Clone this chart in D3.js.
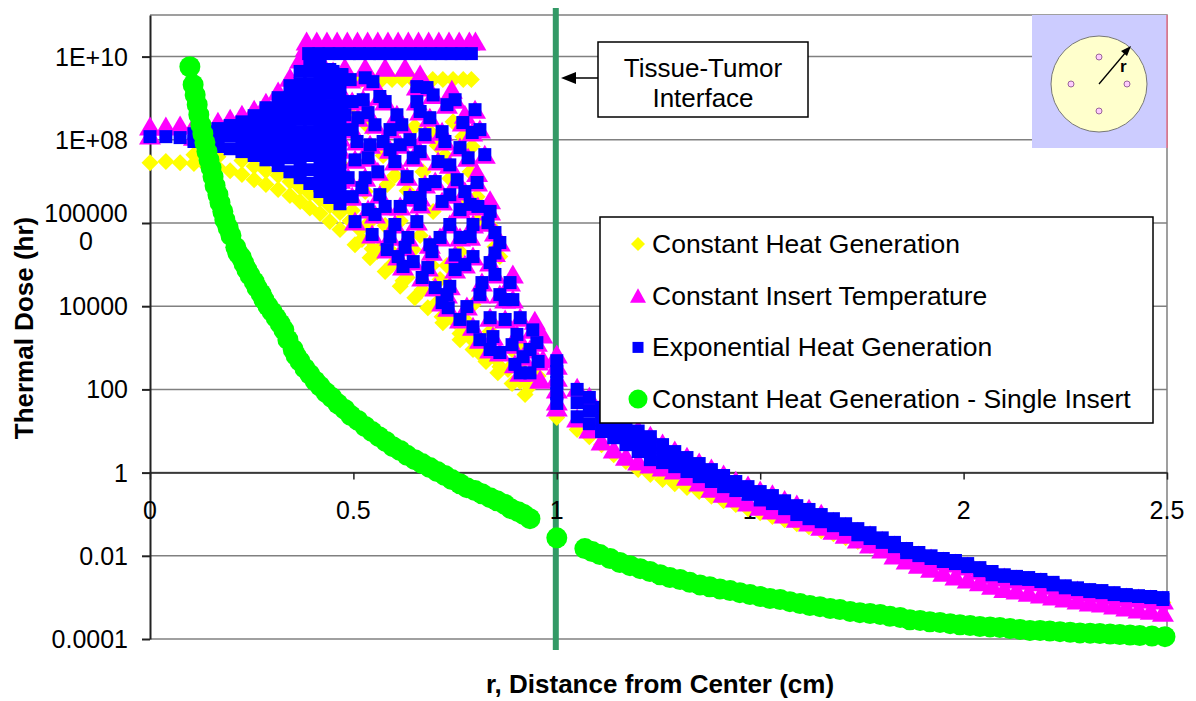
<!DOCTYPE html>
<html>
<head>
<meta charset="utf-8">
<script src="https://cdn.jsdelivr.net/npm/d3@7"></script>
<style>
body { margin: 0; background: #fff; }
text { font-family: "Liberation Sans", Arial, sans-serif; }
</style>
</head>
<body>
<div id="chart-container"></div>
<script>
var xTicks = [0, 0.5, 1, 1.5, 2, 2.5]
var xTickLabels = ["0", "0.5", "1", "1.5", "2", "2.5"]
var yTicks = [1e-4, 1e-2, 1, 100, 1e4, 1e6, 1e8, 1e10]
var yTickLabels = [["0.0001"], ["0.01"], ["1"], ["100"], ["10000"], ["100000", "0"], ["1E+08"], ["1E+10"]]
var seriesNames = ["Constant Heat Generation", "Constant Insert Temperature", "Exponential Heat Generation", "Constant Heat Generation - Single Insert"]

// r positions of the band beyond the interface (shared by the three insert models)
var tailR = [1.05,1.08,1.11,1.14,1.17,1.20,1.23,1.26,1.29,1.32,1.35,1.38,1.41,1.44,1.47,1.50,1.53,1.56,1.59,1.62,1.65,1.68,1.71,1.74,1.77,1.80,1.83,1.86,1.89,1.92,1.95,1.98,2.01,2.04,2.07,2.10,2.13,2.16,2.19,2.22,2.25,2.28,2.31,2.34,2.37,2.40,2.43,2.46,2.49]

// Constant Heat Generation (yellow diamonds)
var constHeatPts = [
  [0,2.8e7],[0.039,3.0e7],[0.074,2.8e7],[0.108,2.7e7],[0.138,2.4e7],[0.167,2.15e7],[0.197,1.8e7],[0.226,1.46e7],[0.256,1.1e7],[0.285,8.4e6],
  [0.315,6.4e6],[0.344,4.6e6],[0.369,3.3e6],[0.393,2.3e6],[0.418,1.7e6],[0.442,1.08e6],[0.467,7.0e5],[0.504,3.0e5],[0.541,1.47e5],[0.578,6.8e4],
  [0.615,3.0e4],[0.651,1.6e4],[0.683,9.2e3],[0.720,4.0e3],[0.762,1.57e3],[0.794,9.1e2],[0.826,4.7e2],[0.855,2.5e2],[0.890,1.38e2],[0.922,75],
  [0.521,4.0e5],[0.558,2.05e5],[0.595,1.0e5],[0.632,4.9e4],[0.669,2.5e4],[0.706,1.22e4],[0.742,5.3e3],[0.779,2.2e3],[0.816,1.19e3],[0.848,5.8e2],[0.880,3.0e2],[0.910,1.55e2],
  [0.108,4.4e7],[0.167,3.9e7],[0.226,3.2e7],[0.256,2.3e7],[0.285,1.8e7],[0.315,1.38e7],[0.344,9.9e6],[0.369,7.1e6],[0.393,5.1e6],[0.418,3.7e6],
  [0.442,2.6e6],[0.467,1.8e6],[0.492,1.14e6],[0.516,7.0e5],[0.541,4.0e5],[0.565,2.4e5],
  [0.42,2.8e9],[0.445,2.8e9],[0.47,2.8e9],[0.495,2.8e9],[0.52,2.8e9],[0.545,2.8e9],[0.57,2.8e9],[0.595,2.8e9],[0.62,2.8e9],[0.645,2.8e9],
  [0.67,2.8e9],[0.695,2.8e9],[0.72,2.8e9],[0.745,2.8e9],[0.77,2.8e9],[0.79,2.8e9],
  [0.497,3.8e8],[0.536,2.1e8],[0.607,1.86e8],[0.651,2.1e8],[0.745,2.7e8],[0.573,4.2e7],[0.671,1.7e7],[0.602,1.38e7],[0.467,2.7e7],[0.529,5.7e6],
  [0.632,6.0e6],[0.583,8.4e6],[0.696,1.9e6],[0.497,2.0e6],[0.536,9.7e5],[0.615,1.14e6],[0.664,5.0e5],[0.578,8.7e5],[0.647,2.3e5],[0.546,2.4e5],
  [0.590,2.2e5],[0.713,4.4e4],[0.730,9.5e4],[0.762,2.05e5],[0.622,4.1e4],[0.693,9.5e4],[0.794,1.09e4],[0.774,4.8e3],[0.806,1.14e6],[0.836,8.7e5],
  [0.860,1.56e5],[0.890,9.1e2],[0.910,1.19e3],[0.836,2.45e3],[0.794,1.49e3],[0.860,3.5e2],[0.954,2.1e2],[0.934,1.17e2],[0.917,2.8e2],[0.811,7.3e2],
  [0.750,4.3e3],[0.718,5.6e3],[0.762,2.2e3],[0.848,2.7e5],[0.804,4.3e6],[0.769,2.6e6],[0.737,1.17e7],[0.787,1.7e7],[0.706,7.3e7],[0.725,4.2e7],
  [0.688,1.57e8],[0.792,6.9e7],[0.769,1.19e8],
  [1.0,33],[1.0,21]
]
var constHeatTail = [10.8,7.3,4.7,2.7,1.84,1.18,0.9,0.68,0.54,0.44,0.35,0.27,0.21,0.17,0.136,0.109,0.088,0.074,0.059,0.050,
  0.040,0.034,0.027,0.022,0.0176,0.016,0.0141,0.0101,0.0086,0.0073,0.0061,0.0055,0.0047,0.0037,0.0030,0.0027,0.0024,0.0023,0.0020,0.0017,
  0.00146,0.0013,0.00117,0.0011,0.00099,0.00094,0.00089,0.00084,0.00075]

// lattice of grid points between the inserts: read once, both insert models sit on the same spots
var latticeR = [0.450,0.472,0.492,0.529,0.548,0.472,0.497,0.524,0.565,0.578,0.536,0.607,0.619,0.497,0.509,0.573,0.438,0.467,0.536,0.602,
  0.435,0.460,0.487,0.529,0.560,0.632,0.497,0.536,0.578,0.615,0.504,0.546,0.590,0.634,0.656,0.639,0.647,0.656,0.656,0.681,
  0.696,0.730,0.750,0.688,0.718,0.676,0.769,0.792,0.664,0.725,0.762,0.782,0.708,0.737,0.755,0.804,0.701,0.664,0.718,0.774,
  0.762,0.806,0.836,0.737,0.794,0.831,0.848,0.713,0.762,0.583,0.610,0.647,0.693,0.622,0.669,0.683,0.701,0.718,0.730,0.787,
  0.750,0.794,0.836,0.848,0.737,0.779,0.816,0.885,0.860,0.836,0.892,0.733,0.762,0.794,0.843,0.811,0.860,0.902,0.941,0.951,
  0.917,0.910,0.934,0.954,0.860,
  0.511,0.553,0.590,0.639,0.664,0.590,0.676,0.737,0.787,0.615,0.521,0.565,0.602,0.553,0.664,0.627,0.688,0.774,0.811,0.848,
  0.873,0.750,0.873,0.910,0.890,0.934,0.836,0.897,0.799,0.823,0.811,0.541,0.479,0.504]
var expHeatLattice = [4.4e9,3.7e9,2.8e9,3.1e9,2.5e9,7.0e8,8.3e8,9.2e8,1.1e9,8.3e8,4.5e8,4.0e8,2.3e8,1.76e8,9.1e7,9.1e7,1.01e8,5.8e7,3.7e7,3.0e7,
  3.9e7,2.5e7,1.23e7,1.23e7,1.7e7,1.3e7,4.3e6,2.1e6,2.5e6,2.5e6,1.08e6,5.3e5,4.7e5,4.5e5,1.08e6,4.1e6,3.7e7,8.3e8,1.9e9,1.8e9,
  1.2e9,7.0e8,9.2e8,3.4e8,1.57e8,1.33e8,2.6e8,1.5e8,5.2e7,9.1e7,6.5e7,3.7e7,3.0e7,2.5e7,1.1e7,9.4e6,9.9e6,4.1e6,3.3e6,5.7e6,
  2.1e6,2.5e6,1.9e6,9.2e5,9.2e5,1.02e6,5.9e5,4.5e5,4.5e5,2.3e5,1.56e5,1.18e5,2.05e5,9.0e4,4.9e4,8.5e4,2.8e4,1.22e4,1.9e4,4.7e5,
  7.6e4,1.56e5,1.12e5,1.9e5,3.0e4,9.8e3,3.7e4,3.7e4,1.9e4,5.3e3,1.44e4,9.2e3,4.8e3,3.2e3,1.86e3,1.57e3,7.7e2,2.1e3,2.7e3,1.33e3,
  6.1e2,2.5e2,2.5e2,4.7e2,3.4e5,
  3.4e8,2.3e8,1.76e8,1.01e8,4.8e8,5.8e7,8.4e6,4.8e6,2.8e6,7.6e7,7.1e6,4.8e6,9.2e5,1.6e6,2.8e6,2.6e5,3.0e5,1.0e5,1.9e4,5.8e4,
  1.44e4,1.7e5,4.8e3,5.3e3,1.19e3,9.1e2,9.1e2,4.0e2,5.3e8,4.4e7,1.76e8,7.6e7,4.0e8,3.3e7]
var insertTempLattice = [4.4e9,3.7e9,2.8e9,3.1e9,2.5e9,7.0e8,8.3e8,9.2e8,1.1e9,8.3e8,4.5e8,4.0e8,2.3e8,1.76e8,9.1e7,9.1e7,1.01e8,5.8e7,3.7e7,3.0e7,
  3.9e7,2.5e7,1.23e7,1.23e7,1.7e7,1.3e7,4.3e6,2.1e6,2.5e6,2.5e6,1.08e6,5.3e5,4.7e5,4.5e5,1.08e6,4.1e6,3.7e7,8.3e8,1.9e9,1.8e9,
  1.2e9,7.0e8,9.2e8,3.4e8,1.57e8,1.33e8,2.6e8,1.5e8,5.2e7,9.1e7,6.5e7,3.7e7,3.0e7,2.5e7,1.1e7,9.4e6,9.9e6,4.1e6,3.3e6,5.7e6,
  2.1e6,2.5e6,1.9e6,9.2e5,9.2e5,1.02e6,5.9e5,4.5e5,4.5e5,2.3e5,1.56e5,1.18e5,2.05e5,9.0e4,4.9e4,8.5e4,2.8e4,1.22e4,1.9e4,4.7e5,
  7.6e4,1.56e5,1.12e5,1.9e5,3.0e4,9.8e3,3.7e4,3.7e4,1.9e4,5.3e3,1.44e4,9.2e3,4.8e3,3.2e3,1.86e3,1.57e3,7.7e2,2.1e3,2.7e3,1.33e3,
  6.1e2,2.5e2,2.5e2,4.7e2,3.4e5,
  3.4e8,2.3e8,1.76e8,1.01e8,4.8e8,5.8e7,8.4e6,4.8e6,2.8e6,7.6e7,7.1e6,4.8e6,9.2e5,1.6e6,2.8e6,2.6e5,3.0e5,1.0e5,1.9e4,5.8e4,
  1.44e4,1.7e5,4.8e3,5.3e3,1.19e3,9.1e2,9.1e2,4.0e2,5.3e8,4.4e7,1.76e8,7.6e7,4.0e8,3.3e7]

// Exponential Heat Generation (blue squares)
var expHeatPts = [
  [0,1.19e8],[0.039,1.19e8],[0.074,1.13e8],
  [0.108,1.4e8],[0.108,9.1e7],
  [0.138,1.57e8],[0.138,8.6e7],
  [0.167,1.86e8],[0.167,1.07e8],[0.167,6.9e7],
  [0.197,2.2e8],[0.197,1.26e8],[0.197,6.1e7],
  [0.226,2.7e8],[0.226,1.57e8],[0.226,9.1e7],[0.226,5.2e7],
  [0.256,3.8e8],[0.256,2.2e8],[0.256,1.26e8],[0.256,7.3e7],[0.256,4.2e7],
  [0.285,5.9e8],[0.285,3.4e8],[0.285,2.0e8],[0.285,1.13e8],[0.285,6.5e7],[0.285,3.3e7],
  [0.315,1.03e9],[0.315,5.3e8],[0.315,2.7e8],[0.315,1.4e8],[0.315,7.3e7],[0.315,4.2e7],[0.315,2.4e7],
  [0.344,2.0e9],[0.344,1.03e9],[0.344,5.3e8],[0.344,2.7e8],[0.344,1.4e8],[0.344,7.3e7],[0.344,3.7e7],[0.344,1.7e7],
  [0.369,4.4e9],[0.369,2.2e9],[0.369,1.15e9],[0.369,5.9e8],[0.369,3.1e8],[0.369,1.57e8],[0.369,8.1e7],[0.369,4.2e7],[0.369,2.15e7],[0.369,1.23e7],
  [0.393,8.5e9],[0.393,4.4e9],[0.393,2.2e9],[0.393,1.15e9],[0.393,5.9e8],[0.393,3.1e8],[0.393,1.57e8],[0.393,8.1e7],[0.393,4.2e7],[0.393,1.9e7],[0.393,8.9e6],
  [0.418,6.1e9],[0.418,3.1e9],[0.418,1.6e9],[0.418,8.3e8],[0.418,4.3e8],[0.418,2.2e8],[0.418,1.13e8],[0.418,5.8e7],[0.418,3.0e7],[0.418,1.54e7],[0.418,7.9e6],[0.418,5.7e6],
  [0.442,4.9e9],[0.442,2.5e9],[0.442,1.3e9],[0.442,6.6e8],[0.442,3.4e8],[0.442,1.76e8],[0.442,9.1e7],[0.442,4.7e7],[0.442,2.4e7],[0.442,1.23e7],[0.442,6.4e6],[0.442,4.1e6],
  [0.467,3.7e9],[0.467,1.9e9],[0.467,9.8e8],[0.467,5.0e8],[0.467,2.6e8],[0.467,1.33e8],[0.467,6.9e7],[0.467,3.5e7],[0.467,1.8e7],[0.467,9.4e6],[0.467,4.8e6],[0.467,2.9e6],
  [0.39,1.18e10],[0.415,1.18e10],[0.44,1.18e10],[0.465,1.18e10],[0.49,1.18e10],[0.515,1.18e10],[0.54,1.18e10],[0.565,1.18e10],[0.59,1.18e10],
  [0.615,1.18e10],[0.64,1.18e10],[0.665,1.18e10],[0.69,1.18e10],[0.715,1.18e10],[0.74,1.18e10],[0.765,1.18e10],[0.79,1.18e10],
  [1.0,4.9e2],[1.0,2.7e2],[1.0,1.46e2],[1.0,79],[1.0,46]
]
var expHeatTailHi = [100,64,37,24,14,10,7.3,4.7,3.2,2.3,1.65,1.18,0.85,0.61,0.46,0.35,0.28,0.21,0.16,0.13,
  0.098,0.078,0.059,0.045,0.036,0.027,0.021,0.015,0.012,0.010,0.0086,0.0077,0.0065,0.0052,0.0042,0.0035,0.0032,0.0030,0.0027,0.0023,
  0.0019,0.0017,0.00154,0.00146,0.0013,0.00117,0.0011,0.00105,0.00099]
var expHeatTailMid = [48,31,18.8,12.8,8.2,5.9,4.0,2.9,2.2,1.56,1.18,0.85]
var expHeatTailLo = [22,15,9.7,6.9,4.7,3.2,2.05,1.74,1.39,1.06,0.80,0.61,0.46,0.37,0.30,0.22,0.18,0.136,0.098,0.078,
  0.066,0.053,0.043,0.032,0.026,0.021,0.0166,0.0119,0.0101,0.0086,0.0073,0.0065,0.0055,0.0044,0.0035,0.0032,0.0028,0.0027,0.0024,0.0020,
  0.0017,0.00154,0.00138,0.0013,0.00117,0.0011,0.00105,0.00099,0.00089]

// Constant Insert Temperature (magenta triangles)
var insertTempPts = [
  [0,2.1e8],[0.039,2.1e8],[0.074,2.2e8],[0.108,2.2e8],[0.138,2.3e8],[0.167,2.7e8],[0.197,3.2e8],[0.226,4.0e8],[0.256,5.3e8],[0.285,7.8e8],
  [0.315,1.44e9],[0.344,3.1e9],[0.369,8.5e9],[0.383,1.65e10],
  [0.385,2.3e10],[0.41,2.3e10],[0.435,2.3e10],[0.46,2.3e10],[0.485,2.3e10],[0.51,2.3e10],[0.535,2.3e10],[0.56,2.3e10],[0.585,2.3e10],
  [0.61,2.3e10],[0.635,2.3e10],[0.66,2.3e10],[0.685,2.3e10],[0.71,2.3e10],[0.735,2.3e10],[0.76,2.3e10],[0.785,2.3e10],[0.80,2.3e10],
  [0,1.26e8],[0.108,1.19e8],[0.197,1.57e8],[0.285,2.3e8],[0.344,5.3e8],[0.369,9.2e8],[0.393,4.0e8],[0.418,7.0e8],[0.418,1.76e8],[0.442,9.2e8],
  [0.442,2.3e8],[0.442,5.8e7],[0.467,1.6e9],[0.467,4.8e8],[0.467,1.13e8],[0.467,1.1e7],[0.418,5.8e7],[0.442,1.9e7],
  [0.430,5.4e9],[0.479,5.4e9],[0.529,5.4e9],[0.578,5.4e9],[0.627,5.4e9],
  [0.664,3.7e9],[0.742,1.6e9],[0.774,4.0e8],[0.804,1.6e7],[0.836,3.5e6],[0.892,5.8e4],[0.946,4.5e3],[0.964,2.1e3],[0.966,5.2e2],[0.959,1.7e2],
  [1.0,6.9e2],[1.0,3.7e2],[1.0,1.9e2],[1.0,1.0e2],[1.0,51],[1.0,36.5]
]
var insertTempTailHi = [110,67,39,25,15,10.8,7.7,5.0,3.4,2.4,1.74,1.25,0.9,0.64,0.49,0.37,0.30,0.22,0.17,0.136,
  0.103,0.066,0.050,0.038,0.031,0.023,0.0176,0.0126,0.0101,0.0086,0.0073,0.0065,0.0055,0.0044,0.0035,0.0030,0.0027,0.0025,0.0023,0.0019,
  0.0016,0.00146,0.0013,0.00123,0.0011,0.00099,0.00094,0.00089,0.00084]
var insertTempTailLo = [19.9,10.8,5.6,3.6,2.4,1.84,1.56,1.32,1.12,0.80,0.575,0.41,0.31,0.237,0.19,0.152,0.122,0.098,0.078,0.063,
  0.050,0.040,0.032,0.0245,0.0186,0.0141,0.0101,0.0077,0.0061,0.0049,0.0039,0.0032,0.0027,0.0023,0.0019,0.0016,0.00146,0.0013,0.00117,0.00105,
  0.00094,0.00084,0.00075,0.00071,0.00064,0.00057,0.00051,0.00048,0.00043]

// Constant Heat Generation - Single Insert (green circles)
var singleInsertPts = [
  [0.098,5.7e9],[0.106,2.1e9],[0.111,1.2e9],[0.116,7.0e8],[0.120,4.0e8],[0.125,2.3e8],[0.130,1.4e8],[0.135,8.6e7],[0.140,5.2e7],[0.145,3.3e7],
  [0.150,2.15e7],[0.155,1.3e7],[0.160,7.9e6],[0.167,4.8e6],[0.172,3.1e6],[0.179,1.9e6],[0.184,1.2e6],[0.192,7.7e5],[0.199,5.0e5],[0.211,2.6e5],
  [0.216,1.9e5],[0.224,1.5e5],[0.231,1.06e5],[0.238,7.6e4],[0.246,5.5e4],[0.256,3.9e4],[0.263,2.8e4],[0.273,2.0e4],[0.280,1.44e4],[0.290,1.0e4],
  [0.300,7.4e3],[0.310,5.3e3],[0.320,3.8e3],[0.329,2.7e3],[0.339,1.57e3],[0.352,9.1e2],[0.359,6.5e2],[0.369,4.7e2],[0.381,3.2e2],[0.393,2.3e2],
  [0.406,1.6e2],[0.418,1.2e2],[0.433,84],[0.447,64],[0.462,45],[0.479,33],[0.494,23.5],[0.511,18],[0.529,12.8],[0.546,9.7],
  [0.563,7.3],[0.580,5.6],[0.597,4.2],[0.615,3.4],[0.632,2.6],[0.651,2.05],[0.669,1.65],[0.688,1.32],[0.706,1.06],[0.725,0.85],
  [0.742,0.68],[0.762,0.54],[0.779,0.435],[0.799,0.37],[0.816,0.31],[0.836,0.25],[0.853,0.21],[0.873,0.17],[0.887,0.136],[0.905,0.115],
  [0.919,0.098],[0.934,0.078],
  [1.0,0.027],[1.069,0.0149],[1.087,0.0126],[1.106,0.0107],[1.131,0.0086],[1.155,0.0069],[1.180,0.0058],[1.205,0.0049],[1.229,0.0042],[1.254,0.0035],
  [1.278,0.0030],[1.303,0.0027],[1.327,0.0023],[1.352,0.0020],[1.376,0.0018],[1.401,0.0016],[1.426,0.00146],[1.450,0.0013],[1.475,0.00117],[1.500,0.00105],
  [1.524,0.00094],[1.549,0.00089],[1.573,0.00079],[1.598,0.00071],[1.622,0.00064],[1.647,0.0006],[1.672,0.00054],[1.696,0.00051],[1.721,0.00046],[1.745,0.00043],
  [1.770,0.00041],[1.795,0.00039],[1.819,0.00035],[1.844,0.00033],[1.868,0.00029],[1.893,0.00028],[1.917,0.00026],[1.942,0.00025],[1.967,0.000234],[1.991,0.00022],
  [2.016,0.00021],[2.040,0.0002],[2.065,0.000195],[2.089,0.00019],[2.114,0.000178],[2.139,0.00017],[2.163,0.00016],[2.188,0.00016],[2.212,0.000155],[2.237,0.00015],
  [2.262,0.000145],[2.286,0.00014],[2.311,0.000138],[2.335,0.000135],[2.360,0.000131],[2.384,0.000128],[2.409,0.000124],[2.433,0.000121],[2.463,0.000118],[2.495,0.000114]
]

var width = 1196
var height = 701
var svg = d3.select("#chart-container").append("svg").attr("width", width).attr("height", height)
var x = d3.scaleLinear().domain([0, 2.5]).range([150, 1167])
var y = d3.scaleLog().domain([1e-4, 1e11]).range([639, 15])

function zip(rs, vals) { return vals.map(function(v, i) { return [rs[i], v] }) }

// grid and frame
svg.append("g").selectAll("line").data(yTicks).enter().append("line")
  .attr("x1", 150).attr("x2", 1167).attr("y1", function(d) { return y(d) }).attr("y2", function(d) { return y(d) })
  .attr("stroke", "#808080").attr("stroke-width", 1.5)
svg.append("path").attr("d", "M150," + y(1e11) + "H1167V" + y(1e-4)).attr("fill", "none").attr("stroke", "#808080").attr("stroke-width", 1.5)

// tissue-tumor interface
svg.append("line").attr("x1", x(1) - 1).attr("x2", x(1) - 1).attr("y1", 8).attr("y2", 650).attr("stroke", "#339966").attr("stroke-width", 6)

// axes
var yAxis = svg.append("g").attr("transform", "translate(150,0)")
  .call(d3.axisLeft(y).tickValues(yTicks).tickSize(8).tickSizeOuter(0).tickFormat(""))
yAxis.selectAll("path,line").attr("stroke", "#222").attr("stroke-width", 2)
var xAxis = svg.append("g").attr("transform", "translate(0," + y(1) + ")")
  .call(d3.axisBottom(x).tickValues(xTicks).tickSize(7).tickSizeOuter(0).tickFormat(""))
xAxis.selectAll("path,line").attr("stroke", "#222").attr("stroke-width", 1.5)

yTickLabels.forEach(function(lines, i) {
  var t = svg.append("text").attr("font-size", 25).attr("fill", "#000")
  if (lines.length == 1) {
    t.attr("x", 128).attr("y", y(yTicks[i]) + 9).attr("text-anchor", "end").text(lines[0])
  } else {
    t.attr("text-anchor", "middle")
    t.append("tspan").attr("x", 86).attr("y", y(yTicks[i]) - 1).text(lines[0])
    t.append("tspan").attr("x", 86).attr("y", y(yTicks[i]) + 27).text(lines[1])
  }
})
xTicks.forEach(function(d, i) {
  svg.append("text").attr("x", x(d)).attr("y", 519).attr("text-anchor", "middle").attr("font-size", 25).text(xTickLabels[i])
})

svg.append("text").attr("transform", "translate(33,328) rotate(-90)").attr("text-anchor", "middle")
  .attr("font-size", 26).attr("font-weight", "bold").text("Thermal Dose (hr)")
svg.append("text").attr("x", 660).attr("y", 693).attr("text-anchor", "middle")
  .attr("font-size", 26).attr("font-weight", "bold").text("r, Distance from Center (cm)")

// markers
var shapes = {
  diamond: "M0,-8.5L8.5,0L0,8.5L-8.5,0Z",
  triangle: "M0,-10L11,9L-11,9Z",
  square: "M-6.5,-6.5H6.5V6.5H-6.5Z",
  circle: "M10.5,0A10.5,10.5 0 1,1 -10.5,0A10.5,10.5 0 1,1 10.5,0Z"
}
var colors = ["#ffff00", "#ff00ff", "#0000ff", "#00ff00"]

function drawSeries(pts, shape, color) {
  svg.append("g").selectAll("path").data(pts).enter().append("path")
    .attr("transform", function(d) { return "translate(" + x(d[0]) + "," + y(d[1]) + ")" })
    .attr("d", shape).attr("fill", color)
}

drawSeries(constHeatPts.concat(zip(tailR, constHeatTail)), shapes.diamond, colors[0])
drawSeries(insertTempPts.concat(zip(latticeR, insertTempLattice), zip(tailR, insertTempTailLo), zip(tailR, insertTempTailHi)), shapes.triangle, colors[1])
drawSeries(expHeatPts.concat(zip(latticeR, expHeatLattice), zip(tailR, expHeatTailLo), zip(tailR, expHeatTailMid), zip(tailR, expHeatTailHi)), shapes.square, colors[2])
drawSeries(singleInsertPts, shapes.circle, colors[3])

// legend
var legend = svg.append("g")
legend.append("rect").attr("x", 600).attr("y", 217).attr("width", 553).attr("height", 206)
  .attr("fill", "#fff").attr("stroke", "#000").attr("stroke-width", 1.5)
var legendShapes = [
  "M0,-7L7,0L0,7L-7,0Z",
  "M0,-7.5L8,7L-8,7Z",
  "M-5.5,-5.5H5.5V5.5H-5.5Z",
  "M9.5,0A9.5,9.5 0 1,1 -9.5,0A9.5,9.5 0 1,1 9.5,0Z"
]
seriesNames.forEach(function(name, i) {
  var ly = 244 + i * 51.7
  legend.append("path").attr("transform", "translate(638," + ly + ")").attr("d", legendShapes[i]).attr("fill", colors[i])
  legend.append("text").attr("x", 652).attr("y", ly + 9).attr("font-size", 26.5).text(name)
})

// interface callout
svg.append("rect").attr("x", 598).attr("y", 42).attr("width", 210).attr("height", 75)
  .attr("fill", "#fff").attr("stroke", "#000").attr("stroke-width", 1.5)
svg.append("text").attr("x", 703).attr("y", 77).attr("text-anchor", "middle").attr("font-size", 26).text("Tissue-Tumor")
svg.append("text").attr("x", 703).attr("y", 107).attr("text-anchor", "middle").attr("font-size", 26).text("Interface")
svg.append("line").attr("x1", 598).attr("x2", 574).attr("y1", 78).attr("y2", 78).attr("stroke", "#000").attr("stroke-width", 1.5)
svg.append("path").attr("d", "M561,78L576,72L576,84Z").attr("fill", "#000")

// inset sketch of the cross-section
var inset = svg.append("g")
inset.append("rect").attr("x", 1032).attr("y", 15).attr("width", 135).attr("height", 133).attr("fill", "#ccccff")
inset.append("line").attr("x1", 1167).attr("x2", 1167).attr("y1", 15).attr("y2", 148).attr("stroke", "#e0708a").attr("stroke-width", 1.5)
inset.append("circle").attr("cx", 1099).attr("cy", 84).attr("r", 48).attr("fill", "#ffffcc").attr("stroke", "#777").attr("stroke-width", 1)
;[[1099, 57], [1071, 84], [1127, 84], [1099, 111]].forEach(function(p) {
  inset.append("circle").attr("cx", p[0]).attr("cy", p[1]).attr("r", 3).attr("fill", "#ffccff").attr("stroke", "#996699").attr("stroke-width", 1)
})
inset.append("line").attr("x1", 1099).attr("y1", 84).attr("x2", 1126).attr("y2", 52).attr("stroke", "#000").attr("stroke-width", 1.3)
inset.append("path").attr("d", "M1131,46L1121,51L1127,56Z").attr("fill", "#000")
inset.append("text").attr("x", 1120).attr("y", 72).attr("font-size", 17).attr("font-weight", "bold").text("r")
</script>
</body>
</html>
